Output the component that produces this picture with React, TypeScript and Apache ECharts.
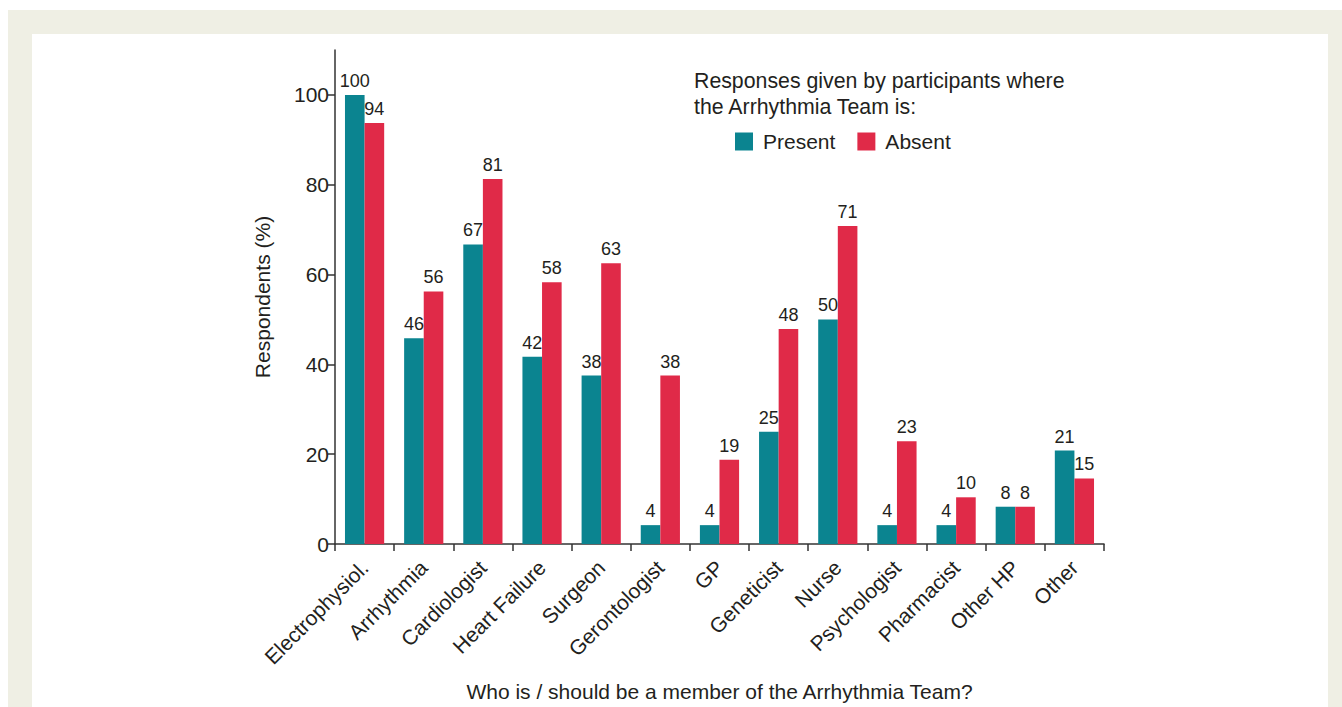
import React, { useEffect, useRef } from "react";
import * as echarts from "echarts";

const categories = [
  "Electrophysiol.", "Arrhythmia", "Cardiologist", "Heart Failure", "Surgeon",
  "Gerontologist", "GP", "Geneticist", "Nurse", "Psychologist", "Pharmacist",
  "Other HP", "Other",
];
const present = [100, 45.8, 66.7, 41.7, 37.5, 4.2, 4.2, 25, 50, 4.2, 4.2, 8.3, 20.8];
const absent = [93.75, 56.25, 81.25, 58.3, 62.5, 37.5, 18.75, 47.9, 70.8, 22.9, 10.4, 8.3, 14.6];
const yTicks = [0, 20, 40, 60, 80, 100];

const TEXT = "#231f20";
const FONT = "Liberation Sans, Arial, sans-serif";

export default function App() {
  const ref = useRef<HTMLDivElement>(null);
  useEffect(() => {
    document.body.style.margin = "0";
    const chart = echarts.init(ref.current!, undefined, { renderer: "svg" });
    const label = {
      show: true,
      position: "top",
      distance: 5,
      fontSize: 18,
      color: TEXT,
      fontFamily: FONT,
      formatter: (p: any) => String(Math.round(p.value)),
    };
    chart.setOption({
      animation: false,
      textStyle: { fontFamily: FONT, color: TEXT },
      title: {
        text: "Responses given by participants where\nthe Arrhythmia Team is:",
        left: 689,
        top: 63,
        textStyle: { fontSize: 21.3, fontWeight: "normal", color: TEXT, fontFamily: FONT, lineHeight: 26 },
      },
      legend: {
        left: 730,
        top: 126,
        itemWidth: 18,
        itemHeight: 18,
        itemGap: 22,
        icon: "rect",
        textStyle: { fontSize: 21, color: TEXT, fontFamily: FONT, padding: [0, 0, 0, 5] },
        data: ["Present", "Absent"],
      },
      grid: { left: 335, right: 238, top: 50, bottom: 162, containLabel: false },
      xAxis: {
        type: "category",
        data: categories,
        boundaryGap: true,
        name: "Who is / should be a member of the Arrhythmia Team?",
        nameLocation: "middle",
        nameGap: 137,
        nameTextStyle: { fontSize: 21, color: TEXT, fontFamily: FONT },
        axisLine: { lineStyle: { color: "#333", width: 1.5 } },
        axisTick: { show: true, length: 7, interval: 0, lineStyle: { color: "#333", width: 1.5 } },
        axisLabel: { interval: 0, rotate: 45, fontSize: 21, color: TEXT, fontFamily: FONT, margin: 20 },
        splitLine: { show: false },
      },
      yAxis: {
        type: "value",
        min: 0,
        max: 110,
        interval: 20,
        name: "Respondents (%)",
        nameLocation: "middle",
        nameGap: 62,
        nameRotate: 90,
        nameTextStyle: { fontSize: 21, color: TEXT, fontFamily: FONT },
        axisLine: { show: true, lineStyle: { color: "#333", width: 1.5 } },
        axisTick: { show: true, length: 7, customValues: yTicks, lineStyle: { color: "#333", width: 1.5 } },
        axisLabel: { fontSize: 21, color: TEXT, fontFamily: FONT, margin: 6, customValues: yTicks },
        splitLine: { show: false },
      },
      series: [
        {
          name: "Present",
          type: "bar",
          data: present,
          barWidth: 19.6,
          barGap: "0%",
          itemStyle: { color: "#0b8490" },
          label,
        },
        {
          name: "Absent",
          type: "bar",
          data: absent,
          barWidth: 19.6,
          barGap: "0%",
          itemStyle: { color: "#e02a48" },
          label,
        },
      ],
    });
    return () => chart.dispose();
  }, []);
  return (
    <div style={{ position: "relative", width: 1342, height: 707, background: "#fff", overflow: "hidden" }}>
      <div style={{ position: "absolute", left: 8, top: 10, width: 1334, height: 697, background: "#efefe4" }} />
      <div style={{ position: "absolute", left: 32, top: 34, width: 1296, height: 673, background: "#fff" }} />
      <div ref={ref} style={{ position: "absolute", left: 0, top: 0, width: 1342, height: 707 }} />
    </div>
  );
}
